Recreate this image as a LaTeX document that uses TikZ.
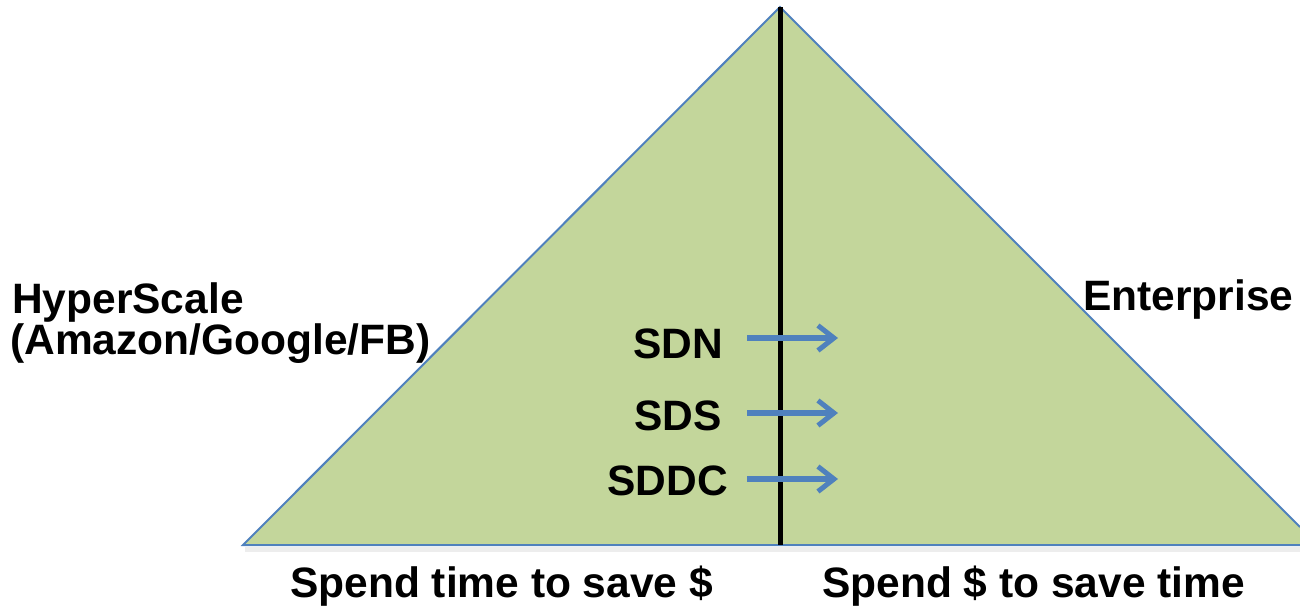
\documentclass[tikz,border=0pt]{standalone}
\usepackage{fontspec}
\setmainfont{Liberation Sans}
\usetikzlibrary{arrows.meta}
\definecolor{trifill}{HTML}{C3D69B}
\definecolor{triline}{HTML}{4F81BD}
\definecolor{arrowblue}{HTML}{4F81BD}
\begin{document}
\begin{tikzpicture}[x=1pt,y=-1pt,
  lbl/.style={inner sep=0pt,font=\fontsize{42.5}{44}\selectfont\bfseries},
  flowarrow/.style={draw=arrowblue,line width=6pt,-{Straight Barb[length=16pt,width=25pt,line width=5pt]}},
  edge/.style={draw=triline,line width=2pt}]
\useasboundingbox (0,0) rectangle (1300,605);
\coordinate (apex) at (780,7);
\coordinate (bl) at (243,545);
\coordinate (br) at (1300,545);
\coordinate (rc) at (1300,527);
\coordinate (mid) at (780,545);
% shadow
\fill[black!7] (245,547) rectangle (1300,552);
\fill[trifill] (bl) -- (apex) -- (rc) -- (br) -- cycle;
\draw[edge] (br) -- (bl) -- (apex) -- (rc);
\draw[line width=5pt] (apex) -- (mid);
% labels
\node[lbl,anchor=base west] (hs) at (12,313) {HyperScale};
\node[lbl,anchor=base west] (amz) at (10,354) {(Amazon/Google/FB)};
\node[lbl,anchor=base west] (ent) at (1083,310) {Enterprise};
\node[lbl,anchor=base east] (sdn) at (723,358) {SDN};
\node[lbl,anchor=base east] (sds) at (722,430) {SDS};
\node[lbl,anchor=base east] (sddc) at (728,495) {SDDC};
\node[lbl,anchor=base west] (left) at (290,597) {Spend time to save \$};
\node[lbl,anchor=base west] (right) at (822,597) {Spend \$ to save time};
% arrows
\coordinate (a1s) at (747,338); \coordinate (a1e) at (838,338);
\coordinate (a2s) at (747,413); \coordinate (a2e) at (838,413);
\coordinate (a3s) at (747,479); \coordinate (a3e) at (838,479);
\draw[flowarrow] (a1s) -- (a1e);
\draw[flowarrow] (a2s) -- (a2e);
\draw[flowarrow] (a3s) -- (a3e);
\end{tikzpicture}
\end{document}
